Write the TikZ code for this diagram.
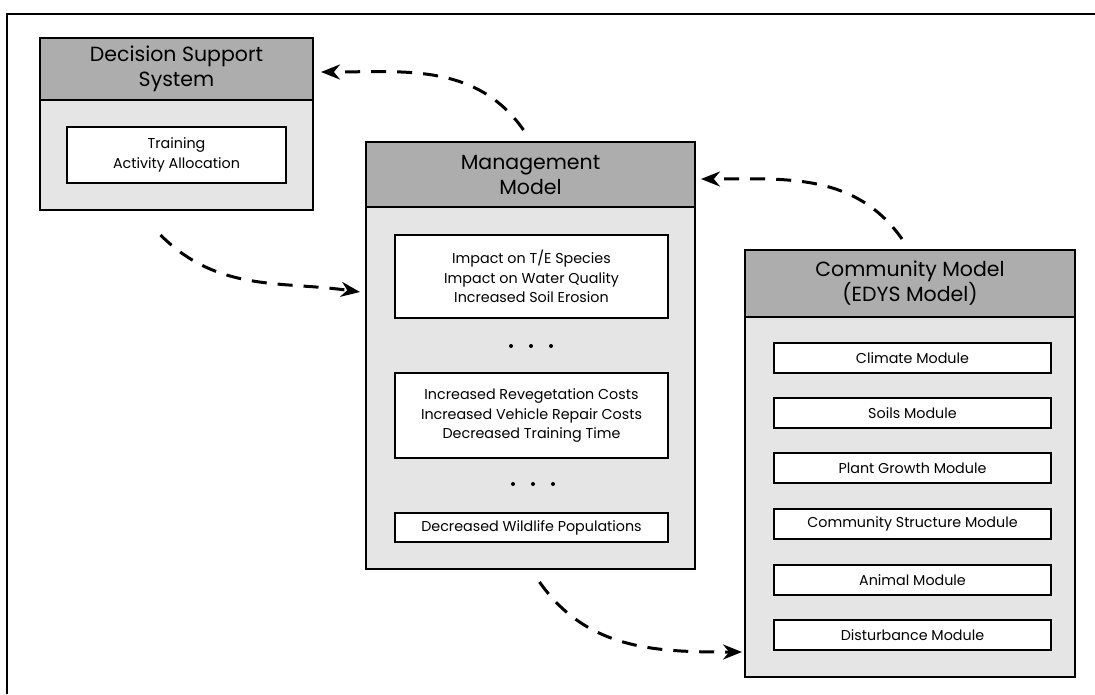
\documentclass[tikz,border=0pt]{standalone}
\usepackage{fontspec}
\setmainfont{Poppins}
\usetikzlibrary{arrows.meta}
\newcommand{\titlefnt}{\fontsize{20.5}{25}\selectfont}
\newcommand{\itemfnt}{\fontsize{14.3}{19.5}\selectfont}
\tikzset{
  outerbox/.style={draw, line width=2.4pt, fill=black!10, anchor=north west, inner sep=0pt, outer sep=0pt},
  headbox/.style={draw, line width=2.4pt, fill=black!32, anchor=north west, inner sep=0pt, outer sep=0pt, align=center, font=\titlefnt},
  itembox/.style={draw, line width=1.8pt, fill=white, anchor=north west, inner sep=0pt, outer sep=0pt, align=center, font=\itemfnt},
  modbox/.style={itembox, minimum width=277, minimum height=30},
  conn/.style={line width=3pt, dash pattern=on 15pt off 11pt, -{Stealth[length=19pt,width=15pt]}},
  dotmark/.style={circle, fill=black, inner sep=0pt, minimum size=4pt}
}
\begin{document}
\begin{tikzpicture}[x=1pt,y=1pt]
\useasboundingbox (0,0) rectangle (1095,-694);
\fill[white] (0,0) rectangle (1095,-694);
% frame
\draw[line width=1.5pt] (7,-694) -- (7,-14) -- (1095,-14);

% Decision Support System
\node[outerbox, minimum width=273, minimum height=172] (dss) at (40,-38) {};
\node[headbox, minimum width=273, minimum height=62] (dssh) at (40,-38) {Decision Support\\System};
\node[itembox, minimum width=219, minimum height=56] (dssi) at (67,-127) {Training\\Activity Allocation};

% Management Model
\node[outerbox, minimum width=329, minimum height=427] (mm) at (366,-142) {};
\node[headbox, minimum width=329, minimum height=65] (mmh) at (366,-142) {Management\\Model};
\node[itembox, minimum width=273, minimum height=83] (mm1) at (395,-235) {Impact on T/E Species\\Impact on Water Quality\\Increased Soil Erosion};
\node[itembox, minimum width=273, minimum height=85] (mm2) at (395,-373) {Increased Revegetation Costs\\Increased Vehicle Repair Costs\\Decreased Training Time};
\node[itembox, minimum width=273, minimum height=29] (mm3) at (395,-513) {Decreased Wildlife Populations};
\node[dotmark] (d1) at (511,-346) {};
\node[dotmark] (d2) at (531,-346) {};
\node[dotmark] (d3) at (551,-346) {};
\node[dotmark] (d4) at (513,-484) {};
\node[dotmark] (d5) at (533,-484) {};
\node[dotmark] (d6) at (553,-484) {};

% Community Model
\node[outerbox, minimum width=330, minimum height=427] (cm) at (745,-250) {};
\node[headbox, minimum width=330, minimum height=67] (cmh) at (745,-250) {Community Model\\(EDYS Model)};
\node[modbox] (m1) at (774,-343) {Climate Module};
\node[modbox] (m2) at (774,-398) {Soils Module};
\node[modbox] (m3) at (774,-453) {Plant Growth Module};
\node[modbox] (m4) at (774,-509) {Community Structure Module};
\node[modbox] (m5) at (774,-565) {Animal Module};
\node[modbox] (m6) at (774,-620) {Disturbance Module};

% connectors
\draw[conn] ([xshift=-7pt,yshift=12pt]mm.north) to[out=125,in=0] ([xshift=8pt,yshift=-3pt]dssh.east);
\draw[conn] ([xshift=-16pt,yshift=-25pt]dss.south) to[out=-45,in=172] ([xshift=-6pt,yshift=-150pt]mm.north west);
\draw[conn] ([xshift=-8pt,yshift=11pt]cm.north) to[out=125,in=0] ([xshift=6pt,yshift=-37pt]mm.north east);
\draw[conn] ([xshift=9pt,yshift=-13pt]mm.south) to[out=-55,in=180] ([xshift=-3pt,yshift=25pt]cm.south west);
\end{tikzpicture}
\end{document}
